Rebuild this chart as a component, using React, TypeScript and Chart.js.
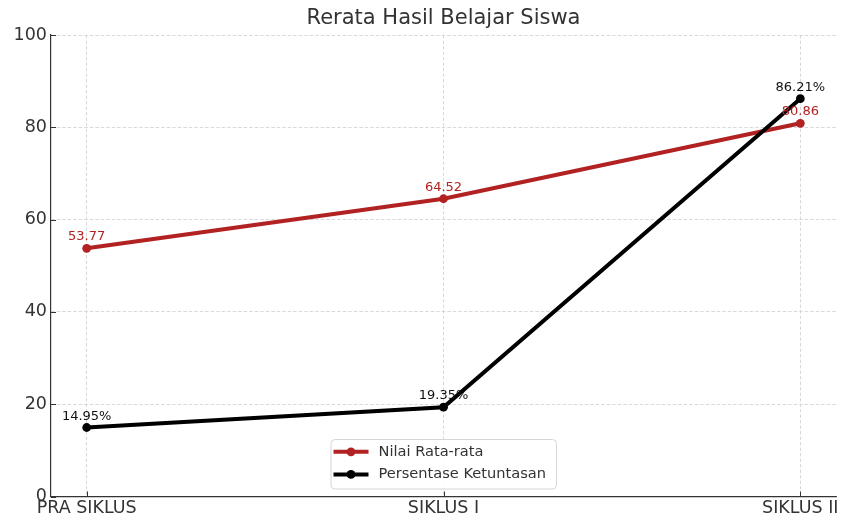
import React, { useEffect, useRef } from "react";
import { Chart, registerables } from "chart.js";

Chart.register(...registerables);

const titleText = "Rerata Hasil Belajar Siswa";
const categories = ["PRA SIKLUS", "SIKLUS I", "SIKLUS II"];
const nilaiRataRata = [53.77, 64.52, 80.86];
const persentaseKetuntasan = [14.95, 19.35, 86.21];
const seriesLabels = ["Nilai Rata-rata", "Persentase Ketuntasan"];
const seriesSuffix = ["", "%"];
const seriesColors = ["#b22222", "#000000"];
const labelColors = ["#b22222", "#111111"];
const yMin = 0;
const yMax = 100;
const yStep = 20;

const FONT = "'DejaVu Sans', sans-serif";
const TEXT = "#333333";

const overlay = {
  id: "overlay",
  afterDatasetsDraw(chart: any) {
    const ctx = chart.ctx;
    ctx.save();
    ctx.font = `13px ${FONT}`;
    ctx.textAlign = "center";
    ctx.textBaseline = "alphabetic";
    chart.data.datasets.forEach((ds: any, di: number) => {
      const meta = chart.getDatasetMeta(di);
      meta.data.forEach((pt: any, i: number) => {
        const v = ds.data[i].y as number;
        ctx.fillStyle = labelColors[di];
        ctx.fillText(v.toFixed(2) + seriesSuffix[di], pt.x, pt.y - 8);
      });
    });
    ctx.restore();
  },
  afterDraw(chart: any) {
    const ctx = chart.ctx;
    const area = chart.chartArea;
    ctx.save();
    // title
    ctx.font = `21px ${FONT}`;
    ctx.fillStyle = TEXT;
    ctx.textAlign = "center";
    ctx.textBaseline = "middle";
    ctx.fillText(titleText, (area.left + area.right) / 2, 19);

    // inward ticks
    ctx.strokeStyle = TEXT;
    ctx.lineWidth = 1;
    const xs = chart.scales.x;
    xs.ticks.forEach((t: any) => {
      const px = Math.round(xs.getPixelForValue(t.value)) + 0.5;
      ctx.beginPath();
      ctx.moveTo(px, area.bottom);
      ctx.lineTo(px, area.bottom - 5);
      ctx.stroke();
    });
    const ys = chart.scales.y;
    ys.ticks.forEach((t: any) => {
      const py = Math.round(ys.getPixelForValue(t.value)) + 0.5;
      ctx.beginPath();
      ctx.moveTo(area.left, py);
      ctx.lineTo(area.left + 5, py);
      ctx.stroke();
    });

    // legend
    const lx = 331, ly = 439.5, lw = 225.5, lh = 49.5, r = 4;
    ctx.beginPath();
    ctx.moveTo(lx + r, ly);
    ctx.lineTo(lx + lw - r, ly);
    ctx.quadraticCurveTo(lx + lw, ly, lx + lw, ly + r);
    ctx.lineTo(lx + lw, ly + lh - r);
    ctx.quadraticCurveTo(lx + lw, ly + lh, lx + lw - r, ly + lh);
    ctx.lineTo(lx + r, ly + lh);
    ctx.quadraticCurveTo(lx, ly + lh, lx, ly + lh - r);
    ctx.lineTo(lx, ly + r);
    ctx.quadraticCurveTo(lx, ly, lx + r, ly);
    ctx.closePath();
    ctx.fillStyle = "rgba(255,255,255,0.85)";
    ctx.fill();
    ctx.strokeStyle = "#d6d6d6";
    ctx.lineWidth = 1;
    ctx.stroke();

    ctx.font = `14.6px ${FONT}`;
    ctx.textAlign = "left";
    ctx.textBaseline = "middle";
    chart.data.datasets.forEach((ds: any, di: number) => {
      const cy = 451.8 + di * 22.6;
      ctx.strokeStyle = seriesColors[di];
      ctx.lineWidth = 4;
      ctx.beginPath();
      ctx.moveTo(333.5, cy);
      ctx.lineTo(368.5, cy);
      ctx.stroke();
      ctx.fillStyle = seriesColors[di];
      ctx.beginPath();
      ctx.arc(351, cy, 4.4, 0, Math.PI * 2);
      ctx.fill();
      ctx.fillStyle = TEXT;
      ctx.fillText(ds.label, 378.5, cy);
    });
    ctx.restore();
  },
};

export default function App() {
  const ref = useRef<HTMLCanvasElement | null>(null);

  useEffect(() => {
    if (!ref.current) return;
    const mk = (vals: number[]) => vals.map((y, i) => ({ x: i, y }));
    const chart = new Chart(ref.current, {
      type: "line",
      data: {
        datasets: [
          {
            label: seriesLabels[0],
            data: mk(nilaiRataRata),
            borderColor: seriesColors[0],
            backgroundColor: seriesColors[0],
            borderWidth: 4,
            pointRadius: 4.4,
            pointBorderWidth: 0,
            pointBackgroundColor: seriesColors[0],
            tension: 0,
            order: 1,
          },
          {
            label: seriesLabels[1],
            data: mk(persentaseKetuntasan),
            borderColor: seriesColors[1],
            backgroundColor: seriesColors[1],
            borderWidth: 4,
            pointRadius: 4.4,
            pointBorderWidth: 0,
            pointBackgroundColor: seriesColors[1],
            tension: 0,
            order: 0,
          },
        ],
      },
      options: {
        animation: false,
        responsive: false,
        devicePixelRatio: 1,
        layout: { padding: { left: 0, top: 35, right: 7, bottom: 0 } },
        plugins: {
          legend: { display: false },
          title: { display: false },
          tooltip: { enabled: false },
        },
        scales: {
          x: {
            type: "linear",
            min: -0.1,
            max: categories.length - 1 + 0.1,
            afterBuildTicks: (scale: any) => {
              scale.ticks = categories.map((_, i) => ({ value: i }));
            },
            afterFit: (scale: any) => {
              scale.height = 23.5;
            },
            ticks: {
              callback: (v: any) => categories[Math.round(Number(v))] ?? "",
              font: { family: FONT, size: 17.5 },
              color: TEXT,
              padding: 1,
              maxRotation: 0,
              autoSkip: false,
            },
            grid: {
              color: "#cfcfcf",
              lineWidth: 0.8,
              drawTicks: false,
            },
            border: { display: true, color: TEXT, width: 1.2, dash: [3.5, 2] },
          },
          y: {
            min: yMin,
            max: yMax,
            afterFit: (scale: any) => {
              scale.width = 51;
            },
            ticks: {
              stepSize: yStep,
              font: { family: FONT, size: 17.5 },
              color: TEXT,
              padding: 4,
            },
            grid: {
              color: "#cfcfcf",
              lineWidth: 0.8,
              drawTicks: false,
            },
            border: { display: true, color: TEXT, width: 1.2, dash: [3.5, 2] },
          },
        },
      },
      plugins: [overlay],
    } as any);
    return () => chart.destroy();
  }, []);

  return (
    <div style={{ position: "absolute", left: 0, top: 0, width: 843, height: 520, background: "#fff" }}>
      <canvas ref={ref} width={843} height={520} />
    </div>
  );
}
